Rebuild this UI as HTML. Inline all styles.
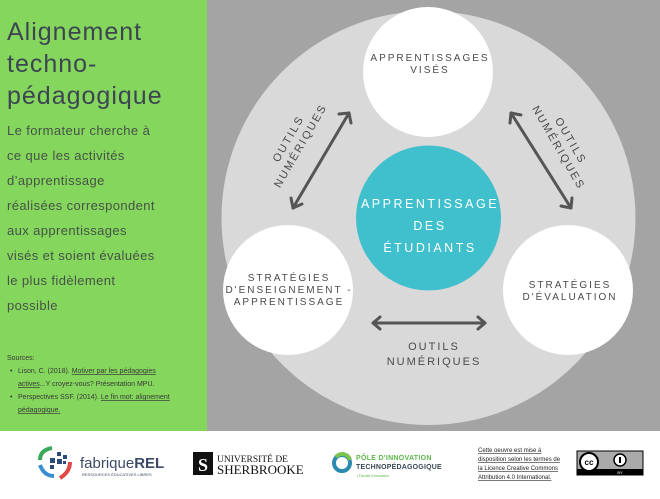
<!DOCTYPE html>
<html><head><meta charset="utf-8"><style>
body{margin:0;width:660px;height:494px;overflow:hidden;background:#fff;font-family:"Liberation Sans",sans-serif}
</style></head><body>
<svg width="660" height="494" xmlns="http://www.w3.org/2000/svg" font-family="Liberation Sans, sans-serif">
<rect x="0" y="0" width="660" height="494" fill="#fff"/>
<rect x="0" y="0" width="207" height="431" fill="#84d65c"/>
<rect x="207" y="0" width="453" height="431" fill="#a4a4a4"/>
<circle cx="428.5" cy="218" r="207" fill="#d9d9d9"/>
<circle cx="428" cy="72" r="65" fill="#fff"/>
<circle cx="288" cy="290" r="65" fill="#fff"/>
<circle cx="568" cy="290" r="65" fill="#fff"/>
<circle cx="428.5" cy="218" r="72.5" fill="#40bfcc"/>
<g stroke="#555" stroke-width="3" fill="none" stroke-linecap="round" stroke-linejoin="round">
<line x1="293" y1="208" x2="349" y2="113"/>
<polyline points="339,114 349,113 351,123"/>
<polyline points="291,198 293,208 302,204"/>
<line x1="511" y1="113" x2="571" y2="208"/>
<polyline points="510,123 511,113 521,115"/>
<polyline points="561,206 571,208 572,198"/>
<line x1="373" y1="323" x2="485" y2="323"/>
<polyline points="380,317 373,323 380,329"/>
<polyline points="478,317 485,323 478,329"/>
</g>
<g fill="#4a4a4a" font-size="10" letter-spacing="2" text-anchor="middle">
<text x="430" y="61">APPRENTISSAGES</text>
<text x="430" y="73">VISÉS</text>
<text x="289" y="281">STRATÉGIES</text>
<text x="289" y="293">D'ENSEIGNEMENT -</text>
<text x="289" y="305">APPRENTISSAGE</text>
<text x="570" y="288">STRATÉGIES</text>
<text x="570" y="300">D'ÉVALUATION</text>
<g font-size="11"><text x="434" y="350">OUTILS</text><text x="434" y="365">NUMÉRIQUES</text></g>
<g font-size="11" transform="translate(294,142) rotate(-60)"><text x="0" y="-3">OUTILS</text><text x="0" y="11">NUMÉRIQUES</text></g>
<g font-size="11" transform="translate(565,144) rotate(60)"><text x="0" y="-3">OUTILS</text><text x="0" y="11">NUMÉRIQUES</text></g>
</g>
<g fill="#fff" font-size="12.5" letter-spacing="2.5" text-anchor="middle">
<text x="430" y="208">APPRENTISSAGE</text>
<text x="430" y="230">DES</text>
<text x="430" y="252">ÉTUDIANTS</text>
</g>
<g fill="#3d4552" font-size="25" letter-spacing="1">
<text x="7" y="40">Alignement</text>
<text x="7" y="72">techno-</text>
<text x="7" y="104">pédagogique</text>
</g>
<g fill="#475248" font-size="13" letter-spacing="0.4">
<text x="7" y="135">Le formateur cherche à</text>
<text x="7" y="160">ce que les activités</text>
<text x="7" y="185">d’apprentissage</text>
<text x="7" y="210">réalisées correspondent</text>
<text x="7" y="235">aux apprentissages</text>
<text x="7" y="260">visés et soient évaluées</text>
<text x="7" y="285">le plus fidèlement</text>
<text x="7" y="310">possible</text>
</g>
<g fill="#3a3a3a" font-size="7">
<text x="7" y="360">Sources:</text>
<text x="10" y="373">•</text><text x="18" y="373">Lison, C. (2018). <tspan text-decoration="underline">Motiver par les pédagogies</tspan></text>
<text x="18" y="386"><tspan text-decoration="underline">actives</tspan>...Y croyez-vous? Présentation MPU.</text>
<text x="10" y="399">•</text><text x="18" y="399">Perspectives SSF. (2014). <tspan text-decoration="underline">Le fin mot: alignement</tspan></text>
<text x="18" y="412" text-decoration="underline">pédagogique.</text>
</g>
<path d="M40 460 Q40 450 52 448" stroke="#3aa85a" stroke-width="4" fill="none"/>
<path d="M40 465 Q44 476 54 476" stroke="#3a8ed0" stroke-width="4" fill="none"/>
<path d="M70 462 Q70 472 60 478" stroke="#e04848" stroke-width="4" fill="none"/>
<g fill="#2e4a7a"><rect x="50" y="458" width="5" height="5"/><rect x="57" y="452" width="4" height="4"/><rect x="57" y="459" width="5" height="5"/><rect x="63" y="455" width="4" height="4"/><rect x="50" y="465" width="4" height="4"/><rect x="63" y="461" width="3" height="3"/></g>
<text x="80" y="468" font-size="15" fill="#3d4a66">fabrique<tspan font-weight="bold">REL</tspan></text>
<text x="82" y="476" font-size="4" fill="#3d4a66">RESSOURCES ÉDUCATIVES LIBRES</text>
<rect x="193" y="452" width="20" height="23" fill="#111"/>
<text x="203" y="471" font-size="18" fill="#fff" text-anchor="middle" font-family="Liberation Serif,serif" font-weight="bold">S</text>
<text x="217" y="462" font-size="9.5" fill="#111" font-family="Liberation Serif,serif">UNIVERSITÉ DE</text>
<text x="217" y="474" font-size="13" fill="#111" font-family="Liberation Serif,serif">SHERBROOKE</text>
<circle cx="342" cy="463" r="8" fill="none" stroke="#2a8ab0" stroke-width="4"/>
<path d="M336 457 A8 8 0 0 1 350 460" stroke="#7cc44c" stroke-width="4" fill="none"/>
<text x="356" y="460" font-size="7" fill="#5cb84a" font-weight="bold" letter-spacing="0.3">PÔLE D'INNOVATION</text>
<text x="356" y="469" font-size="7" fill="#3a4a55" font-weight="bold" letter-spacing="0.2">TECHNOPÉDAGOGIQUE</text>
<text x="357" y="477" font-size="3.5" fill="#5cb84a">| Faculté d'éducation</text>
<g font-size="6" fill="#222" text-decoration="underline">
<text x="478" y="452">Cette oeuvre est mise à</text>
<text x="478" y="461">disposition selon les termes de</text>
<text x="478" y="470">la Licence Creative Commons</text>
<text x="478" y="479">Attribution 4.0 International.</text>
</g>
<rect x="577" y="451" width="66" height="24" fill="#aaa" stroke="#000" stroke-width="1"/>
<rect x="577" y="469" width="66" height="6" fill="#000"/>
<circle cx="589" cy="462" r="9" fill="#fff" stroke="#000" stroke-width="2"/>
<text x="589" y="465" font-size="8" text-anchor="middle" font-weight="bold">cc</text>
<circle cx="620" cy="460" r="6" fill="#fff" stroke="#000" stroke-width="1.5"/>
<rect x="619" y="457" width="2" height="6" fill="#000"/>
<text x="620" y="474" font-size="4" fill="#fff" text-anchor="middle">BY</text>
</svg>
</body></html>
